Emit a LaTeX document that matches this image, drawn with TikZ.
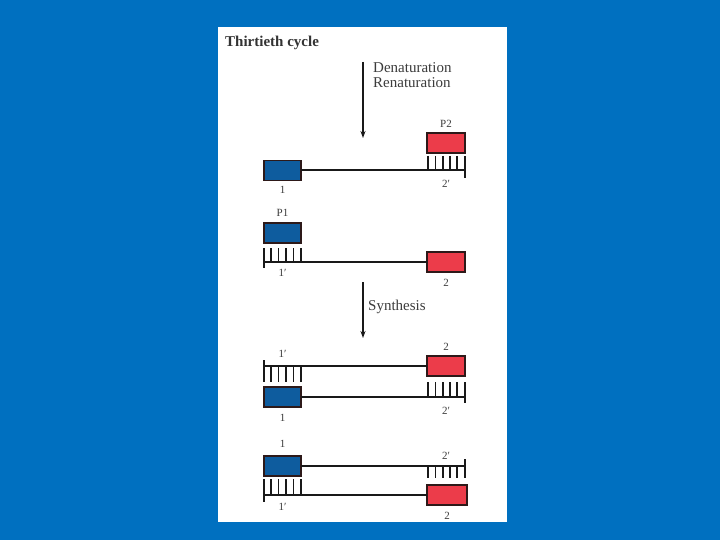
\documentclass[tikz,border=0pt]{standalone}
\usepackage{fontspec}
\setmainfont{Liberation Serif}
\usetikzlibrary{arrows.meta}
\definecolor{bgblue}{RGB}{0,112,192}
\definecolor{boxblue}{RGB}{14,92,158}
\definecolor{boxred}{RGB}{236,60,74}
\definecolor{edgec}{RGB}{45,25,25}
\definecolor{txt}{RGB}{60,60,60}
\begin{document}
\begin{tikzpicture}[x=1pt,y=-1pt,
  bbox/.style={draw=edgec,line width=1.5pt,fill=boxblue,minimum width=37pt,minimum height=20pt,inner sep=0pt,outer sep=0pt},
  rbox/.style={bbox,fill=boxred,minimum width=38pt},
  strand/.style={line width=2pt,draw=black!90},
  tickline/.style={line width=1.6pt,draw=black!90},
  lab/.style={font=\fontsize{11}{11}\selectfont,text=txt,inner sep=0pt},
  steptext/.style={font=\fontsize{15}{15}\selectfont,text=txt,inner sep=0pt,anchor=west},
  steparrow/.style={line width=1.3pt,draw=black!90,-{Stealth[length=7pt,width=5pt]}}]
\useasboundingbox (0,0) rectangle (720,540);
\fill[bgblue] (0,0) rectangle (720,540);
\fill[white] (218,27) rectangle (507,522);

% title and steps
\node[font=\fontsize{15}{15}\selectfont\bfseries,text=black!80,inner sep=0pt,anchor=west] (title) at (225,43) {Thirtieth cycle};
\coordinate (a1s) at (363,62);
\coordinate (a1e) at (363,138);
\draw[steparrow] (a1s) -- (a1e);
\node[steptext] (den) at (373,68) {Denaturation};
\node[steptext] (ren) at (373,83) {Renaturation};
\coordinate (a2s) at (363,282);
\coordinate (a2e) at (363,338);
\draw[steparrow] (a2s) -- (a2e);
\node[steptext] (syn) at (368,307) {Synthesis};

% strand A
\node[bbox] (A1) at (282.5,170.5) {};
\node[rbox] (AP2) at (446,143) {};
\coordinate (Aend) at (465,170.5);
\draw[strand] (A1.east) -- (Aend);
\foreach \x in {428,435.5,443,450,457} \draw[tickline] (\x,156) -- (\x,171.5);
\draw[tickline] (465,156) -- (465,178);
\node[lab] (lA1) at (282.5,190) {1};
\node[lab] (lAP2) at (446,124) {P2};
\node[lab] (lA2p) at (446,184) {2′};

% strand B
\node[bbox] (BP1) at (282.5,233) {};
\node[rbox] (B2) at (446,262) {};
\coordinate (Bend) at (264,262);
\draw[strand] (Bend) -- (B2.west);
\foreach \x in {271,278.5,286,293.5,301} \draw[tickline] (\x,248) -- (\x,263);
\draw[tickline] (264,248) -- (264,268);
\node[lab] (lBP1) at (282.5,213) {P1};
\node[lab] (lB1p) at (282.5,273) {1′};
\node[lab] (lB2) at (446,283) {2};

% pair C
\node[rbox] (C2) at (446,366) {};
\coordinate (Cend1) at (264,366);
\draw[strand] (Cend1) -- (C2.west);
\foreach \x in {271,278.5,286,293.5,301} \draw[tickline] (\x,365) -- (\x,382);
\draw[tickline] (264,360) -- (264,382);
\node[bbox] (C1) at (282.5,397) {};
\coordinate (Cend2) at (465,397);
\draw[strand] (C1.east) -- (Cend2);
\foreach \x in {428,435.5,443,450,457} \draw[tickline] (\x,382) -- (\x,398);
\draw[tickline] (465,382) -- (465,403);
\node[lab] (lC1p) at (282.5,354) {1′};
\node[lab] (lC2) at (446,347) {2};
\node[lab] (lC2p) at (446,411) {2′};
\node[lab] (lC1) at (282.5,418) {1};

% pair D
\node[bbox] (D1) at (282.5,466) {};
\coordinate (Dend1) at (465,466);
\draw[strand] (D1.east) -- (Dend1);
\foreach \x in {428,435.5,443,450,457} \draw[tickline] (\x,465) -- (\x,478);
\draw[tickline] (465,459) -- (465,478);
\node[rbox,minimum width=40pt] (D2) at (447,495) {};
\coordinate (Dend2) at (264,495);
\draw[strand] (Dend2) -- (D2.west);
\foreach \x in {271,278.5,286,293.5,301} \draw[tickline] (\x,479) -- (\x,496);
\draw[tickline] (264,479) -- (264,502);
\node[lab] (lD1) at (282.5,444) {1};
\node[lab] (lD2p) at (446,456) {2′};
\node[lab] (lD1p) at (282.5,507) {1′};
\node[lab] (lD2) at (447,516) {2};
\end{tikzpicture}
\end{document}
